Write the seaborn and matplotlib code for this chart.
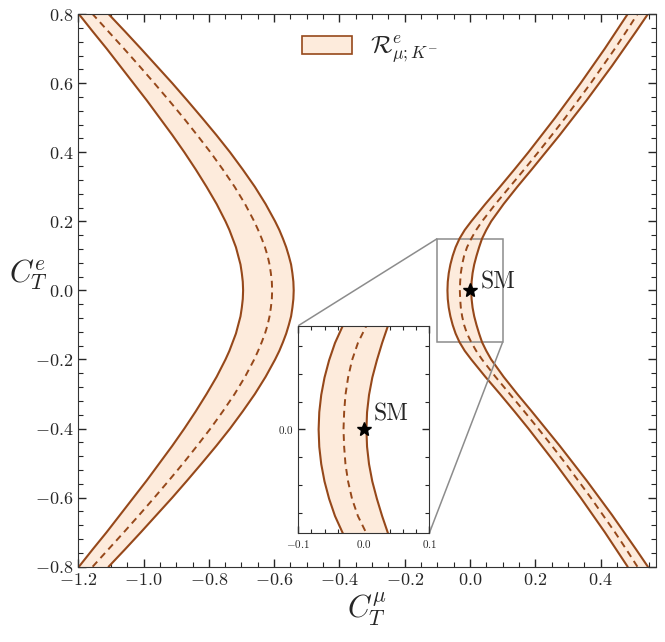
import matplotlib
matplotlib.use("Agg")
import matplotlib.pyplot as plt
import seaborn as sns
from matplotlib.ticker import MultipleLocator
from matplotlib.patches import Patch
from mpl_toolkits.axes_grid1.inset_locator import mark_inset

# C_T^e values shared by every curve
c_e = [-0.8, -0.75, -0.7, -0.65, -0.6, -0.55, -0.5, -0.45, -0.4, -0.35, -0.3, -0.25, -0.2, -0.175,
       -0.15, -0.125, -0.1, -0.075, -0.05, -0.025, 0.0, 0.025, 0.05, 0.075, 0.1, 0.125, 0.15, 0.175,
       0.2, 0.25, 0.3, 0.35, 0.4, 0.45, 0.5, 0.55, 0.6, 0.65, 0.7, 0.75, 0.8]

# left branch (C_T^mu): outer edge, central value, inner edge
left_outer = [-1.198, -1.156, -1.113, -1.072, -1.031, -0.990, -0.951, -0.912, -0.875, -0.840, -0.807,
              -0.776, -0.749, -0.737, -0.727, -0.717, -0.710, -0.703, -0.699, -0.696, -0.695, -0.696,
              -0.699, -0.703, -0.710, -0.717, -0.727, -0.737, -0.749, -0.776, -0.807, -0.840, -0.875,
              -0.912, -0.951, -0.990, -1.031, -1.072, -1.113, -1.156, -1.198]
left_mid = [-1.156, -1.108, -1.060, -1.013, -0.967, -0.922, -0.878, -0.836, -0.795, -0.757, -0.721,
            -0.689, -0.661, -0.649, -0.638, -0.628, -0.620, -0.614, -0.610, -0.607, -0.606, -0.607,
            -0.610, -0.614, -0.620, -0.628, -0.638, -0.649, -0.661, -0.689, -0.721, -0.757, -0.795,
            -0.836, -0.878, -0.922, -0.967, -1.013, -1.060, -1.108, -1.156]
left_inner = [-1.107, -1.057, -1.008, -0.960, -0.912, -0.866, -0.821, -0.777, -0.735, -0.696, -0.659,
              -0.626, -0.597, -0.584, -0.573, -0.563, -0.555, -0.548, -0.544, -0.541, -0.540, -0.541,
              -0.544, -0.548, -0.555, -0.563, -0.573, -0.584, -0.597, -0.626, -0.659, -0.696, -0.735,
              -0.777, -0.821, -0.866, -0.912, -0.960, -1.008, -1.057, -1.107]

# right branch
right_inner = [0.483, 0.448, 0.413, 0.376, 0.339, 0.300, 0.261, 0.220, 0.179, 0.136, 0.092, 0.047,
               0.004, -0.016, -0.032, -0.044, -0.053, -0.060, -0.065, -0.068, -0.069, -0.068, -0.065,
               -0.060, -0.053, -0.044, -0.032, -0.016, 0.004, 0.047, 0.092, 0.136, 0.179, 0.220,
               0.261, 0.300, 0.339, 0.376, 0.413, 0.448, 0.483]
right_mid = [0.513, 0.479, 0.444, 0.407, 0.370, 0.331, 0.292, 0.251, 0.209, 0.166, 0.122, 0.078,
             0.037, 0.019, 0.004, -0.009, -0.018, -0.024, -0.028, -0.030, -0.031, -0.030, -0.028,
             -0.024, -0.018, -0.009, 0.004, 0.019, 0.037, 0.078, 0.122, 0.166, 0.209, 0.251,
             0.292, 0.331, 0.370, 0.407, 0.444, 0.479, 0.513]
right_outer = [0.545, 0.509, 0.472, 0.435, 0.396, 0.357, 0.316, 0.275, 0.232, 0.189, 0.145, 0.103,
               0.065, 0.050, 0.037, 0.028, 0.020, 0.013, 0.008, 0.005, 0.004, 0.005, 0.008, 0.013,
               0.020, 0.028, 0.037, 0.050, 0.065, 0.103, 0.145, 0.189, 0.232, 0.275, 0.316, 0.357,
               0.396, 0.435, 0.472, 0.509, 0.545]

sm_point = (0.0, 0.0)
legend_label = r"$\mathcal{R}^{e}_{\mu;K^{-}}$"

edge_col = "#96481a"
fill_col = "#fdebdc"

sns.set_style("ticks")
plt.rcParams.update({
    "font.family": "serif",
    "font.serif": ["cmr10", "DejaVu Serif"],
    "mathtext.fontset": "cm",
    "axes.formatter.use_mathtext": True,
    "axes.unicode_minus": True,
})


def draw_bands(ax):
    for lo, mid, hi in [(left_outer, left_mid, left_inner), (right_inner, right_mid, right_outer)]:
        ax.fill_betweenx(c_e, lo, hi, color=fill_col, lw=0, zorder=1)
        sns.lineplot(x=lo, y=c_e, sort=False, estimator=None, ax=ax, color=edge_col, lw=1.5, zorder=2)
        sns.lineplot(x=hi, y=c_e, sort=False, estimator=None, ax=ax, color=edge_col, lw=1.5, zorder=2)
        sns.lineplot(x=mid, y=c_e, sort=False, estimator=None, ax=ax, color=edge_col, lw=1.4,
                     linestyle=(0, (3.5, 2.5)), zorder=2)
    ax.plot(*sm_point, marker="*", color="black", markersize=10, zorder=5)


fig = plt.figure(figsize=(6.65, 6.42), dpi=100)
ax = fig.add_axes([0.1177, 0.1173, 0.8688, 0.8607])
draw_bands(ax)
ax.text(0.034, 0.023, "SM", fontsize=17, va="center", ha="left")

ax.set_xlim(-1.2, 0.57)
ax.set_ylim(-0.8, 0.8)
ax.xaxis.set_major_locator(MultipleLocator(0.2))
ax.xaxis.set_minor_locator(MultipleLocator(0.05))
ax.yaxis.set_major_locator(MultipleLocator(0.2))
ax.yaxis.set_minor_locator(MultipleLocator(0.04))
ax.tick_params(which="both", direction="in", top=True, right=True, labelsize=13)
ax.tick_params(which="major", length=6, width=1)
ax.tick_params(which="minor", length=3.5, width=0.8)
for s in ax.spines.values():
    s.set_color("#333333")

ax.set_xlabel(r"$C_T^{\mu}$", fontsize=22)
ax.xaxis.set_label_coords(0.5, -0.042)
ax.set_ylabel(r"$C_T^{e}$", fontsize=22, rotation=0, ha="center", va="center")
ax.yaxis.set_label_coords(-0.087, 0.528)

handle = Patch(facecolor=fill_col, edgecolor=edge_col, lw=1.2)
ax.legend([handle], [legend_label], loc="center left", bbox_to_anchor=(0.387, 0.935), frameon=False,
          fontsize=18, handlelength=2.0, handleheight=0.72, handletextpad=0.72, borderpad=0,
          borderaxespad=0)

# zoomed inset around the SM point
axins = fig.add_axes([0.4486, 0.1693, 0.1969, 0.3234])
draw_bands(axins)
axins.text(0.015, 0.022, "SM", fontsize=17, va="center", ha="left")
axins.set_xlim(-0.1, 0.1)
axins.set_ylim(-0.15, 0.15)
axins.xaxis.set_major_locator(MultipleLocator(0.1))
axins.xaxis.set_minor_locator(MultipleLocator(0.02))
axins.yaxis.set_major_locator(MultipleLocator(0.2))
axins.yaxis.set_minor_locator(MultipleLocator(0.04))
axins.tick_params(which="both", direction="in", top=True, right=True, labelsize=8)
axins.tick_params(which="major", length=5, width=1)
axins.tick_params(which="minor", length=3, width=0.8)
axins.set_xlabel("")
axins.set_ylabel("")
for s in axins.spines.values():
    s.set_color("#333333")

mark_inset(ax, axins, loc1=2, loc2=4, fc="none", ec="0.55", lw=1.1)

fig.savefig("out.png", dpi=100)
